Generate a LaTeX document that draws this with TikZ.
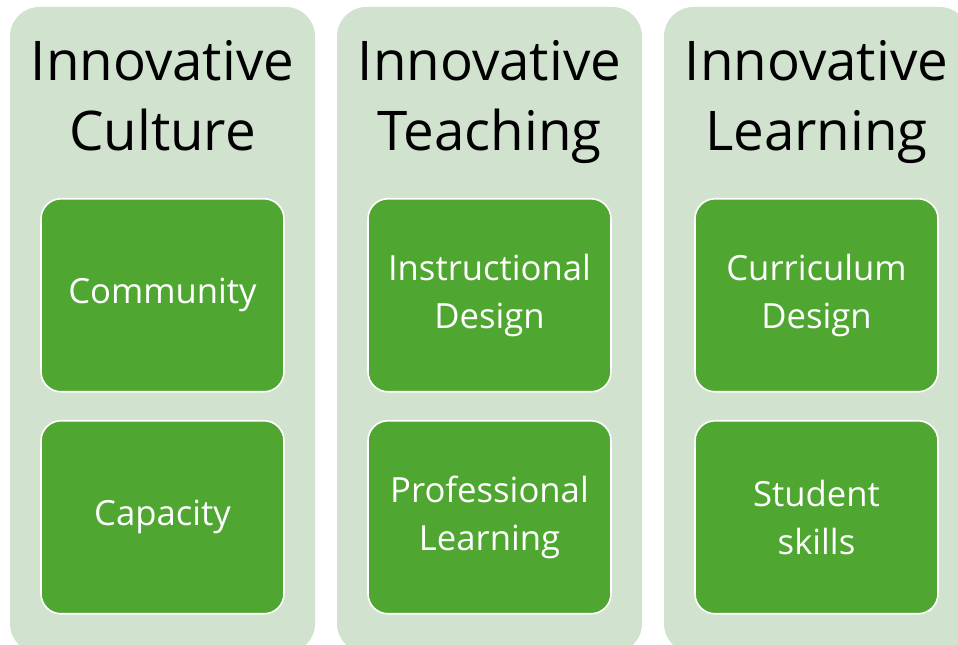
\documentclass[tikz,border=0pt]{standalone}
\usepackage{fontspec}
\setmainfont{Open Sans}
\usetikzlibrary{positioning}
\definecolor{paleGreen}{RGB}{209,226,207}
\definecolor{leafGreen}{RGB}{79,167,50}
\tikzset{node distance=245.25pt, auto,
  column/.style={fill=paleGreen, rounded corners=22pt, inner sep=0pt,
    minimum width=228.75pt, minimum height=484.5pt},
  title/.style={align=center, text=black, inner sep=0pt, anchor=north,
    font=\fontsize{41}{52.5}\selectfont},
  item/.style={fill=leafGreen, draw=white, line width=1.2pt,
    rounded corners=15pt, minimum width=182.25pt, minimum height=144.75pt,
    align=center, text=white, font=\fontsize{26}{36}\selectfont}}

\begin{document}
\begin{tikzpicture}[x=0.75pt, y=-0.75pt]
  \useasboundingbox (0,0) rectangle (958,645);
  \clip (0,0) rectangle (958,645);
  % the three columns
  \node (A) [column] at (162.5,330) {};
  \node (B) [column, right of=A] {};
  \node (C) [column, right of=B] {};
  % headings
  \node (Ahead) [title] at ([yshift=-24.75pt]A.north) {Innovative\\Culture};
  \node (Bhead) [title] at ([yshift=-24.75pt]B.north) {Innovative\\Teaching};
  \node (Chead) [title] at ([yshift=-24.75pt]C.north) {Innovative\\Learning};
  % green boxes
  \node (A1) [item] at ([yshift=-216.4pt]A.north) {Community};
  \node (A2) [item] at ([yshift=-382.9pt]A.north) {Capacity};
  \node (B1) [item] at ([yshift=-216.4pt]B.north) {Instructional\\Design};
  \node (B2) [item] at ([yshift=-382.9pt]B.north) {Professional\\Learning};
  \node (C1) [item] at ([yshift=-216.4pt]C.north) {Curriculum\\Design};
  \node (C2) [item] at ([yshift=-382.9pt]C.north) {Student\\skills};
\end{tikzpicture}
\end{document}
